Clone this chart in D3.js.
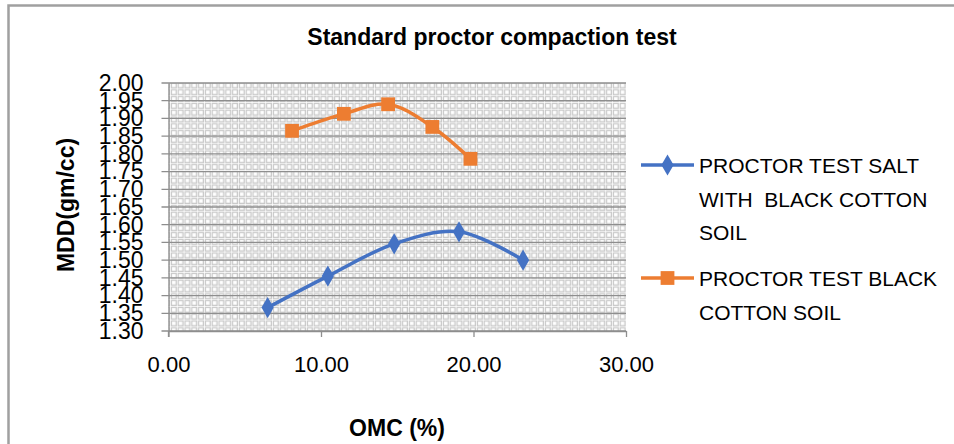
<!DOCTYPE html>
<meta charset="utf-8">
<style>
body { margin: 0; background: #fff; }
text { font-family: "Liberation Sans", Arial, sans-serif; fill: #000; }
</style>
<body>
<script src="https://d3js.org/d3.v7.min.js"></script>
<script>

var w = 954, h = 444;

// data
var saltOmc = [6.5, 10.45, 14.8, 19.05, 23.25];
var saltMdd = [1.366, 1.455, 1.546, 1.58, 1.50];
var blackOmc = [8.1, 11.5, 14.4, 17.3, 19.8];
var blackMdd = [1.865, 1.913, 1.94, 1.876, 1.786];
var seriesNames = ["PROCTOR TEST SALT|WITH  BLACK COTTON|SOIL", "PROCTOR TEST BLACK|COTTON SOIL"];
var xTicks = [0, 10, 20, 30];
var yTicks = d3.range(1.30, 2.0001, 0.05);

var svg = d3.select("body").append("svg")
    .attr("width", w)
    .attr("height", h);

// chart frame
svg.append("rect")
    .attr("x", 8.5).attr("y", 5.5)
    .attr("width", 1000).attr("height", 500)
    .attr("fill", "none")
    .attr("stroke", "#a0a0a0")
    .attr("stroke-width", 2.5);

var x = d3.scaleLinear().domain([0, 30]).range([168.5, 626]);
var y = d3.scaleLinear().domain([1.30, 2.00]).range([331, 83]);

// the little square pattern fill of the plot area
var defs = svg.append("defs");
var pat = defs.append("pattern")
    .attr("id", "sq")
    .attr("patternUnits", "userSpaceOnUse")
    .attr("width", 6.8).attr("height", 6.8);
pat.append("rect").attr("width", 6.8).attr("height", 6.8).attr("fill", "#fff");
pat.append("rect")
    .attr("x", 1.4).attr("y", 1.4)
    .attr("width", 4.8).attr("height", 4.8)
    .attr("fill", "none")
    .attr("stroke", "#cacaca")
    .attr("stroke-width", 1.3);

svg.append("rect")
    .attr("x", x(0)).attr("y", y(2.0))
    .attr("width", x(30) - x(0))
    .attr("height", y(1.3) - y(2.0))
    .attr("fill", "url(#sq)");

// horizontal gridlines
svg.append("g").selectAll("line")
    .data(yTicks)
    .enter().append("line")
    .attr("x1", x(0) - 7).attr("x2", x(30))
    .attr("y1", function(d) { return y(d); })
    .attr("y2", function(d) { return y(d); })
    .attr("stroke", "#8e8e8e")
    .attr("stroke-width", 1.3);

// y axis
var yAxis = d3.axisLeft(y).tickValues(yTicks).tickFormat(d3.format(".2f")).tickSize(0).tickPadding(25);
var gy = svg.append("g").attr("transform", "translate(" + x(0) + ",0)").call(yAxis);
gy.select(".domain").attr("stroke", "#8e8e8e").attr("stroke-width", 1.3);
gy.selectAll("text").style("font-size", "23px").attr("fill", "#000");

// x axis
var xAxis = d3.axisBottom(x).tickValues(xTicks).tickFormat(d3.format(".2f")).tickSize(6).tickSizeOuter(0).tickPadding(19);
var gx = svg.append("g").attr("transform", "translate(0," + y(1.3) + ")").call(xAxis);
gx.select(".domain").attr("stroke", "#8e8e8e").attr("stroke-width", 1.3);
gx.selectAll("line").attr("stroke", "#8e8e8e").attr("stroke-width", 1.3);
gx.selectAll("text").style("font-size", "22px").attr("fill", "#000");
svg.append("line")
    .attr("x1", x(0)).attr("x2", x(0))
    .attr("y1", y(1.3)).attr("y2", y(1.3) + 6)
    .attr("stroke", "#8e8e8e").attr("stroke-width", 1.3);

// titles
svg.append("text")
    .attr("x", 492).attr("y", 45)
    .attr("text-anchor", "middle")
    .style("font-size", "23px").style("font-weight", "bold")
    .text("Standard proctor compaction test");

svg.append("text")
    .attr("x", 397).attr("y", 436)
    .attr("text-anchor", "middle")
    .style("font-size", "23px").style("font-weight", "bold")
    .text("OMC (%)");

svg.append("text")
    .attr("transform", "translate(74,205) rotate(-90)")
    .attr("text-anchor", "middle")
    .style("font-size", "23px").style("font-weight", "bold")
    .text("MDD(gm/cc)");

// series
var series = [
    { omc: saltOmc, mdd: saltMdd, color: "#4472c4", sym: d3.symbolDiamond, size: 130 },
    { omc: blackOmc, mdd: blackMdd, color: "#ed7d31", sym: d3.symbolSquare, size: 190 }
];

var line = d3.line()
    .x(function(d) { return x(d[0]); })
    .y(function(d) { return y(d[1]); })
    .curve(d3.curveCatmullRom.alpha(0.5));

series.forEach(function(s) {
    var pts = d3.zip(s.omc, s.mdd);
    svg.append("path")
        .datum(pts)
        .attr("d", line)
        .attr("fill", "none")
        .attr("stroke", s.color)
        .attr("stroke-width", 3.5)
        .attr("stroke-linecap", "round");
    svg.append("g").selectAll("path")
        .data(pts)
        .enter().append("path")
        .attr("transform", function(d) { return "translate(" + x(d[0]) + "," + y(d[1]) + ")"; })
        .attr("d", d3.symbol().type(s.sym).size(s.size))
        .attr("fill", s.color);
});

// legend
var legY = [165, 278];
series.forEach(function(s, i) {
    var g = svg.append("g").attr("transform", "translate(0," + legY[i] + ")");
    g.append("line")
        .attr("x1", 641).attr("x2", 694)
        .attr("stroke", s.color).attr("stroke-width", 3.5);
    g.append("path")
        .attr("transform", "translate(667.5,0)")
        .attr("d", d3.symbol().type(s.sym).size(s.size))
        .attr("fill", s.color);
    seriesNames[i].split("|").forEach(function(t, j) {
        g.append("text")
            .attr("x", 699).attr("y", j * 33.5 + 8)
            .style("font-size", "21px")
            .style("white-space", "pre")
            .text(t);
    });
});

</script>
</body>
